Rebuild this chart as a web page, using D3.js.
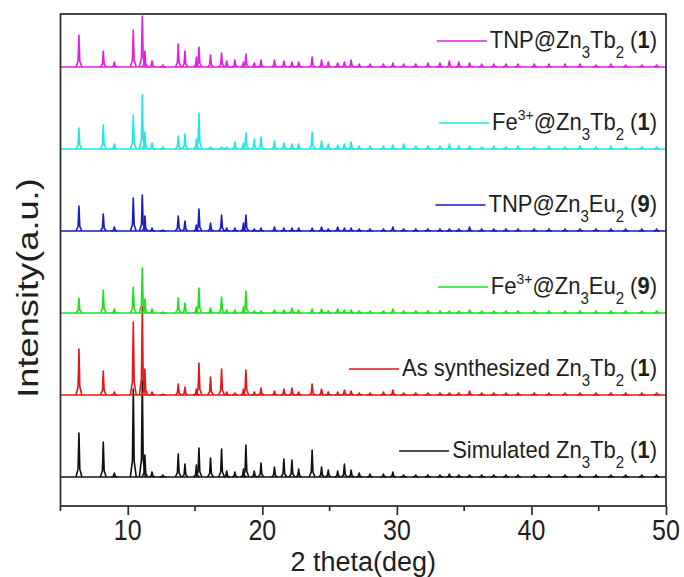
<!DOCTYPE html>
<html>
<head>
<meta charset="utf-8">
<script src="https://cdn.jsdelivr.net/npm/d3@7"></script>
<style>
  body { margin:0; background:#ffffff; }
  svg  { display:block; font-family:"Liberation Sans", Arial, sans-serif; }
</style>
</head>
<body>
<div id="xrdChart"></div>
<script>
// peak positions (2 theta, deg) shared by all patterns
const peakPos = [6.37, 8.18, 9.0, 10.41, 11.08, 11.27, 11.8, 12.6, 13.75, 14.25,
                 15.1, 15.29, 16.15, 16.97, 17.35, 17.96, 18.6, 18.78, 19.4, 19.9,
                 20.9, 21.6, 22.2, 22.7, 23.7, 24.4, 24.9, 25.6, 26.1, 26.6,
                 27.2, 28.0, 29.0, 29.7, 30.5, 31.4, 32.3, 33.2, 33.9, 34.6,
                 35.4, 36.3, 37.2, 38.1, 39.0, 40.2, 41.3, 42.5, 43.6, 44.8,
                 45.9, 47.0, 48.2, 49.3];

// peak intensities (a.u.), bottom to top
const simZnTb   = [44,35,4,88,96,22,5,2,23,13, 12,29,19,28,6,5,8,32,6,14, 10,18,17,8,27,10,7,6,13,7, 4,3,3,5,2,2,2,2,3,2, 2,2,2,2,2,2,2,2,2,2, 2,2,2,2];
const asSynZnTb = [46,24,3,73,88,26,3,1,11,8, 6,32,18,26,3,2,6,25,3,7, 4,6,7,3,11,6,3,3,5,4, 2,2,3,5,2,2,2,2,2,2, 4,2,2,2,2,2,2,2,2,2, 2,2,2,2];
const feZnEu    = [15,23,4,26,45,14,4,1,15,10, 6,25,5,16,3,3,6,22,2,2, 3,3,5,3,4,4,2,4,3,3, 2,2,2,4,2,2,2,2,2,2, 3,2,2,2,2,2,2,2,2,2, 2,2,2,2];
const tnpZnEu   = [25,17,4,33,36,15,3,1,15,10, 6,22,8,16,3,3,8,16,2,3, 4,3,3,3,3,4,2,4,3,3, 2,2,2,4,2,2,2,2,2,2, 4,2,2,2,2,2,2,2,2,2, 2,2,2,2];
const feZnTb    = [21,24,5,34,54,17,6,2,13,15, 10,36,2,2,2,7,6,16,10,12, 8,6,5,5,17,8,5,4,5,7, 3,3,3,4,5,3,3,3,5,3, 3,2,3,2,3,2,3,2,3,2, 3,2,2,2];
const tnpZnTb   = [32,16,5,37,51,16,6,2,23,16, 10,20,12,14,6,7,5,13,4,7, 7,6,5,5,10,7,5,4,5,7, 3,3,3,4,3,3,4,4,6,5, 4,3,3,3,3,3,3,3,3,2, 3,2,2,2];

const seriesVals   = [simZnTb, asSynZnTb, feZnEu, tnpZnEu, feZnTb, tnpZnTb];
const seriesColors = ["#111111", "#e3161b", "#1fe01f", "#1b1bc4", "#22e6e6", "#e21ee2"];

// legend labels: [text, kind]  kind: n normal, sub, sup, b bold
const seriesLabels = [
  [["Simulated Zn","n"],["3","sub"],["Tb","n"],["2","sub"],[" (","n"],["1","b"],[")","n"]],
  [["As synthesized Zn","n"],["3","sub"],["Tb","n"],["2","sub"],[" (","n"],["1","b"],[")","n"]],
  [["Fe","n"],["3+","sup"],["@Zn","n"],["3","sub"],["Eu","n"],["2","sub"],[" (","n"],["9","b"],[")","n"]],
  [["TNP@Zn","n"],["3","sub"],["Eu","n"],["2","sub"],[" (","n"],["9","b"],[")","n"]],
  [["Fe","n"],["3+","sup"],["@Zn","n"],["3","sub"],["Tb","n"],["2","sub"],[" (","n"],["1","b"],[")","n"]],
  [["TNP@Zn","n"],["3","sub"],["Tb","n"],["2","sub"],[" (","n"],["1","b"],[")","n"]]
];

const xTicks      = [10, 20, 30, 40, 50];
const xMinorTicks = [5, 15, 25, 35, 45];
const xLabel      = "2 theta(deg)";
const yLabel      = "Intensity(a.u.)";

const W = 684, H = 577;
const plotL = 60.5, plotR = 666, plotT = 14, plotB = 506;
const baseOff = 29, stepOff = 82;   // vertical stacking offset (a.u.)
const halfW = 0.22;                 // half width of a drawn peak base, deg
const axisCol = "#2a2a2a", txtCol = "#1e1e1e";

const x = d3.scaleLinear().domain([5, 50]).range([plotL, plotR]);
const y = d3.scaleLinear().domain([0, 492]).range([plotB, plotT]);

const svg = d3.select("#xrdChart")
              .append("svg")
                .attr("width",  W)
                .attr("height", H);

// traces
const line = d3.line().x(d => x(d[0])).y(d => y(d[1]));

// sharp peak with a slightly broadened foot
const peakShape = (p, h, off) => line([
  [p - halfW, off],
  [p - halfW * 0.3, off + h * 0.18],
  [p, off + h],
  [p + halfW * 0.3, off + h * 0.18],
  [p + halfW, off]
]);

seriesVals.forEach((vals, i) => {
  const off = baseOff + i * stepOff;
  const g = svg.append("g")
                 .attr("class", "trace")
                 .attr("fill", "none")
                 .attr("stroke", seriesColors[i])
                 .attr("stroke-width", 1.6)
                 .attr("stroke-linejoin", "round");

  // baseline
  g.append("path")
     .attr("d", line([[5, off], [50, off]]));

  // peaks
  g.selectAll("path.peak")
    .data(peakPos.map((p, k) => [p, vals[k]]).filter(d => d[1] > 0))
    .enter()
      .append("path")
        .attr("class", "peak")
        .attr("d", d => peakShape(d[0], d[1], off));
});

// frame
svg.append("rect")
     .attr("x", plotL)
     .attr("y", plotT)
     .attr("width",  plotR - plotL)
     .attr("height", plotB - plotT)
     .attr("fill", "none")
     .attr("stroke", axisCol)
     .attr("stroke-width", 1.7);

// x axis ticks (major + minor)
const xAxis = d3.axisBottom(x)
                .tickValues(xTicks)
                .tickSize(9)
                .tickFormat("");

const xAxisG = svg.append("g")
                    .attr("transform", "translate(0," + plotB + ")")
                    .call(xAxis);
xAxisG.select(".domain").remove();
xAxisG.selectAll("line").attr("stroke", axisCol).attr("stroke-width", 1.7);

svg.append("g")
     .selectAll("line")
     .data(xMinorTicks)
     .enter()
       .append("line")
         .attr("x1", d => x(d))
         .attr("x2", d => x(d))
         .attr("y1", plotB)
         .attr("y2", plotB + 5)
         .attr("stroke", axisCol)
         .attr("stroke-width", 1.7);

// tick labels, slightly tall type like the source figure
svg.append("g")
     .selectAll("text")
     .data(xTicks)
     .enter()
       .append("text")
         .attr("transform", d => "translate(" + x(d) + ",540) scale(1,1.2)")
         .attr("text-anchor", "middle")
         .attr("fill", txtCol)
         .style("font-size", "25px")
         .text(d => d);

svg.append("text")
     .attr("x", (plotL + plotR) / 2)
     .attr("y", 571)
     .attr("text-anchor", "middle")
     .attr("fill", txtCol)
     .style("font-size", "27px")
     .text(xLabel);

svg.append("text")
     .attr("transform", "translate(38,288) rotate(-90) scale(1.25,1)")
     .attr("text-anchor", "middle")
     .attr("fill", txtCol)
     .style("font-size", "29px")
     .text(yLabel);

// legend
seriesLabels.forEach((parts, i) => {
  const off = baseOff + i * stepOff;
  const ly = y(off) - 26;
  const t = svg.append("text")
                 .attr("transform", "translate(657," + (ly + 7) + ") scale(1,1.08)")
                 .attr("text-anchor", "end")
                 .attr("fill", txtCol)
                 .style("font-size", "22px");
  let shift = 0;
  parts.forEach(p => {
    const ts = t.append("tspan").text(p[0]);
    let target = 0;
    if (p[1] === "sub") { target = 9;  ts.style("font-size", "15px"); }
    if (p[1] === "sup") { target = -9; ts.style("font-size", "14px"); }
    if (p[1] === "b")   { ts.style("font-weight", "bold"); }
    if (target !== shift) { ts.attr("dy", target - shift); shift = target; }
  });
  const bb = t.node().getBBox();
  svg.append("line")
       .attr("x1", 657 + bb.x - 53)
       .attr("x2", 657 + bb.x - 3)
       .attr("y1", ly)
       .attr("y2", ly)
       .attr("stroke", seriesColors[i])
       .attr("stroke-width", 1.6);
});
</script>
</body>
</html>
